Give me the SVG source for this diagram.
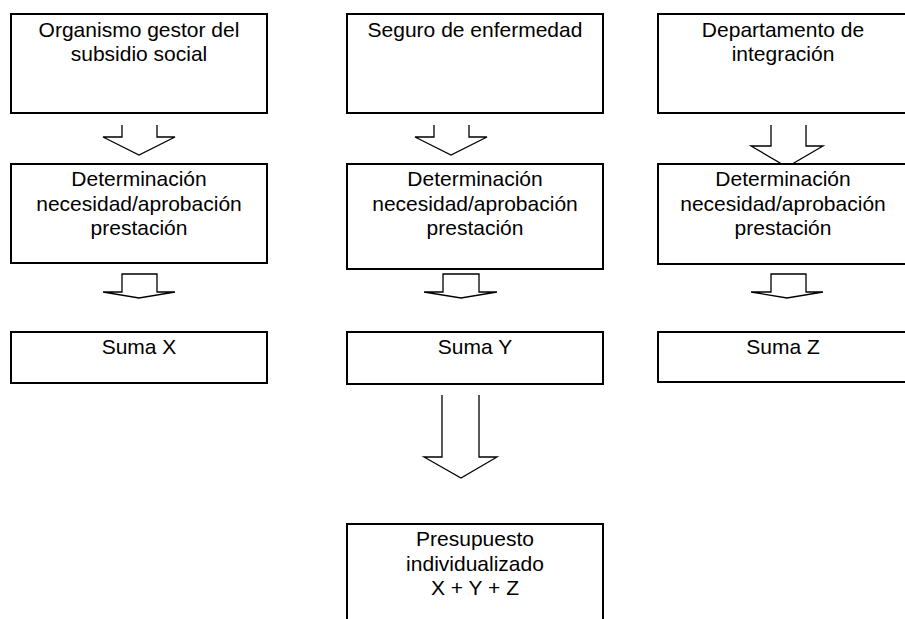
<svg xmlns="http://www.w3.org/2000/svg" width="905" height="619" viewBox="0 0 905 619">
<style>
.box{fill:#fff;stroke:#000;stroke-width:2}
.arr{fill:#fff;stroke:#000;stroke-width:1.3;stroke-linejoin:miter}
text{font-family:"Liberation Sans",Arial,sans-serif;font-size:21px;fill:#000;text-anchor:middle}
</style>
<rect width="905" height="619" fill="#fff"/>
<g id="connectors">
<polyline class="arr" points="122,125 122,137 103,137 139,155 175,137 157,137 157,125"/>
<polyline class="arr" points="434,125 434,137 415,137 451,155 487,137 469,137 469,125"/>
<polyline class="arr" points="771,125 771,146 751,146 787,167 823,146 806,146 806,125"/>
<polygon class="arr" points="122,274 122,292 103,292 139,298 175,292 157,292 157,274"/>
<polygon class="arr" points="443,274 443,292 424,292 461,298 497,292 479,292 479,274"/>
<polygon class="arr" points="771,274 771,292 751,292 787,298 823,292 806,292 806,274"/>
<polyline class="arr" points="442,395 442,457 424,457 461,478 497,457 479,457 479,395"/>
</g>
<g id="n1"><rect class="box" x="11" y="14" width="256" height="99"/><text x="139" y="37">Organismo gestor del</text><text x="139" y="61">subsidio social</text></g>
<g id="n2"><rect class="box" x="347" y="14" width="256" height="99"/><text x="475" y="37">Seguro de enfermedad</text></g>
<g id="n3"><rect class="box" x="658" y="14" width="256" height="99"/><text x="783" y="37">Departamento de</text><text x="783" y="61">integración</text></g>
<g id="n4"><rect class="box" x="11" y="164" width="256" height="99"/><text x="139" y="186">Determinación</text><text x="139" y="210.5">necesidad/aprobación</text><text x="139" y="235">prestación</text></g>
<g id="n5"><rect class="box" x="347" y="164" width="256" height="105"/><text x="475" y="186">Determinación</text><text x="475" y="210.5">necesidad/aprobación</text><text x="475" y="235">prestación</text></g>
<g id="n6"><rect class="box" x="658" y="164" width="256" height="100"/><text x="783" y="186">Determinación</text><text x="783" y="210.5">necesidad/aprobación</text><text x="783" y="235">prestación</text></g>
<g id="n7"><rect class="box" x="11" y="332" width="256" height="51"/><text x="139" y="354">Suma X</text></g>
<g id="n8"><rect class="box" x="347" y="332" width="256" height="52"/><text x="475" y="354">Suma Y</text></g>
<g id="n9"><rect class="box" x="658" y="332" width="256" height="50"/><text x="783" y="354">Suma Z</text></g>
<g id="n10"><rect class="box" x="347" y="524" width="256" height="120"/><text x="475" y="546">Presupuesto</text><text x="475" y="571">individualizado</text><text x="475" y="595">X + Y + Z</text></g>
</svg>
